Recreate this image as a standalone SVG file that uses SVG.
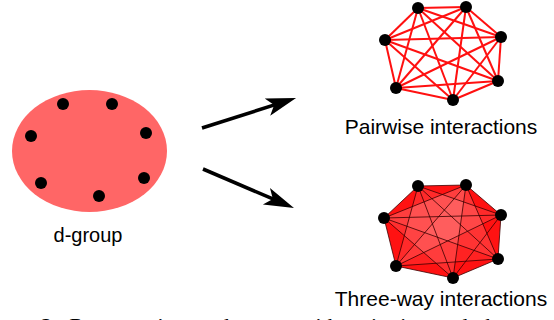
<svg xmlns="http://www.w3.org/2000/svg" width="554" height="320" viewBox="0 0 554 320">
<style>
.lbl{font-family:"Liberation Sans",Arial,sans-serif;fill:#000;text-anchor:middle}
.dot{fill:#000}
.pw line{stroke:#ff1010;stroke-width:2}
.tw line{stroke:#3a0000;stroke-width:0.8}
.arr{stroke:#000;stroke-width:3.6;fill:none;marker-end:url(#ah)}
.cap{font-family:"Liberation Serif","Times New Roman",serif;font-size:22px;fill:#000}
</style>
<defs>
<marker id="ah" markerUnits="userSpaceOnUse" markerWidth="34" markerHeight="24" refX="15" refY="11" orient="auto" overflow="visible">
<path d="M31,11 L1,2 L8,11 L1,20 Z" fill="#000"/>
</marker>
</defs>

<g id="dgroup">
<ellipse cx="89.5" cy="151" rx="77.5" ry="61" fill="#ff6666"/>
<circle class="dot" cx="63" cy="104" r="6"/>
<circle class="dot" cx="112" cy="104" r="6"/>
<circle class="dot" cx="31" cy="136" r="6"/>
<circle class="dot" cx="146" cy="133" r="6"/>
<circle class="dot" cx="41" cy="183" r="6"/>
<circle class="dot" cx="144" cy="178" r="6"/>
<circle class="dot" cx="99" cy="196" r="6"/>
<text class="lbl" x="88" y="242" font-size="20">d-group</text>
</g>

<g id="connectors">
<line class="arr" x1="202" y1="128" x2="280.8" y2="102.9"/>
<line class="arr" x1="203" y1="169" x2="279.3" y2="201.7"/>
</g>

<g id="pairwise">
<g class="pw">
<line x1="418" y1="8" x2="466" y2="7"/>
<line x1="418" y1="8" x2="501" y2="37"/>
<line x1="418" y1="8" x2="498" y2="81"/>
<line x1="418" y1="8" x2="453" y2="100"/>
<line x1="418" y1="8" x2="396" y2="88"/>
<line x1="418" y1="8" x2="385" y2="40"/>
<line x1="466" y1="7" x2="501" y2="37"/>
<line x1="466" y1="7" x2="498" y2="81"/>
<line x1="466" y1="7" x2="453" y2="100"/>
<line x1="466" y1="7" x2="396" y2="88"/>
<line x1="466" y1="7" x2="385" y2="40"/>
<line x1="501" y1="37" x2="498" y2="81"/>
<line x1="501" y1="37" x2="453" y2="100"/>
<line x1="501" y1="37" x2="396" y2="88"/>
<line x1="501" y1="37" x2="385" y2="40"/>
<line x1="498" y1="81" x2="453" y2="100"/>
<line x1="498" y1="81" x2="396" y2="88"/>
<line x1="498" y1="81" x2="385" y2="40"/>
<line x1="453" y1="100" x2="396" y2="88"/>
<line x1="453" y1="100" x2="385" y2="40"/>
<line x1="396" y1="88" x2="385" y2="40"/>
</g>
<circle class="dot" cx="418" cy="8" r="6"/>
<circle class="dot" cx="466" cy="7" r="6"/>
<circle class="dot" cx="501" cy="37" r="6"/>
<circle class="dot" cx="498" cy="81" r="6"/>
<circle class="dot" cx="453" cy="100" r="6"/>
<circle class="dot" cx="396" cy="88" r="6"/>
<circle class="dot" cx="385" cy="40" r="6"/>
<text class="lbl" x="441" y="134" font-size="21">Pairwise interactions</text>
</g>

<g id="threeway">
<polygon points="418,186 466,185 501,215 498,259 453,278 396,266 384,218" fill="#ff1212"/>
<g fill="#ffffff">
<polygon points="384,218 466,185 453,278" fill-opacity="0.12"/>
<polygon points="418,186 501,215 396,266" fill-opacity="0.1"/>
<polygon points="466,185 498,259 384,218" fill-opacity="0.08"/>
<polygon points="396,266 466,185 498,259" fill-opacity="0.07"/>
</g>
<g class="tw">
<line x1="418" y1="186" x2="466" y2="185"/>
<line x1="418" y1="186" x2="501" y2="215"/>
<line x1="418" y1="186" x2="498" y2="259"/>
<line x1="418" y1="186" x2="453" y2="278"/>
<line x1="418" y1="186" x2="396" y2="266"/>
<line x1="418" y1="186" x2="384" y2="218"/>
<line x1="466" y1="185" x2="501" y2="215"/>
<line x1="466" y1="185" x2="498" y2="259"/>
<line x1="466" y1="185" x2="453" y2="278"/>
<line x1="466" y1="185" x2="396" y2="266"/>
<line x1="466" y1="185" x2="384" y2="218"/>
<line x1="501" y1="215" x2="498" y2="259"/>
<line x1="501" y1="215" x2="453" y2="278"/>
<line x1="501" y1="215" x2="396" y2="266"/>
<line x1="501" y1="215" x2="384" y2="218"/>
<line x1="498" y1="259" x2="453" y2="278"/>
<line x1="498" y1="259" x2="396" y2="266"/>
<line x1="498" y1="259" x2="384" y2="218"/>
<line x1="453" y1="278" x2="396" y2="266"/>
<line x1="453" y1="278" x2="384" y2="218"/>
<line x1="396" y1="266" x2="384" y2="218"/>
</g>
<circle class="dot" cx="418" cy="186" r="6"/>
<circle class="dot" cx="466" cy="185" r="6"/>
<circle class="dot" cx="501" cy="215" r="6"/>
<circle class="dot" cx="498" cy="259" r="6"/>
<circle class="dot" cx="453" cy="278" r="6"/>
<circle class="dot" cx="396" cy="266" r="6"/>
<circle class="dot" cx="384" cy="218" r="6"/>
<text class="lbl" x="441" y="306" font-size="21">Three-way interactions</text>
</g>

<text class="cap" x="-28" y="333" word-spacing="6">Figure 2: Representing a d-group with pairwise and three-way interactions</text>
</svg>
